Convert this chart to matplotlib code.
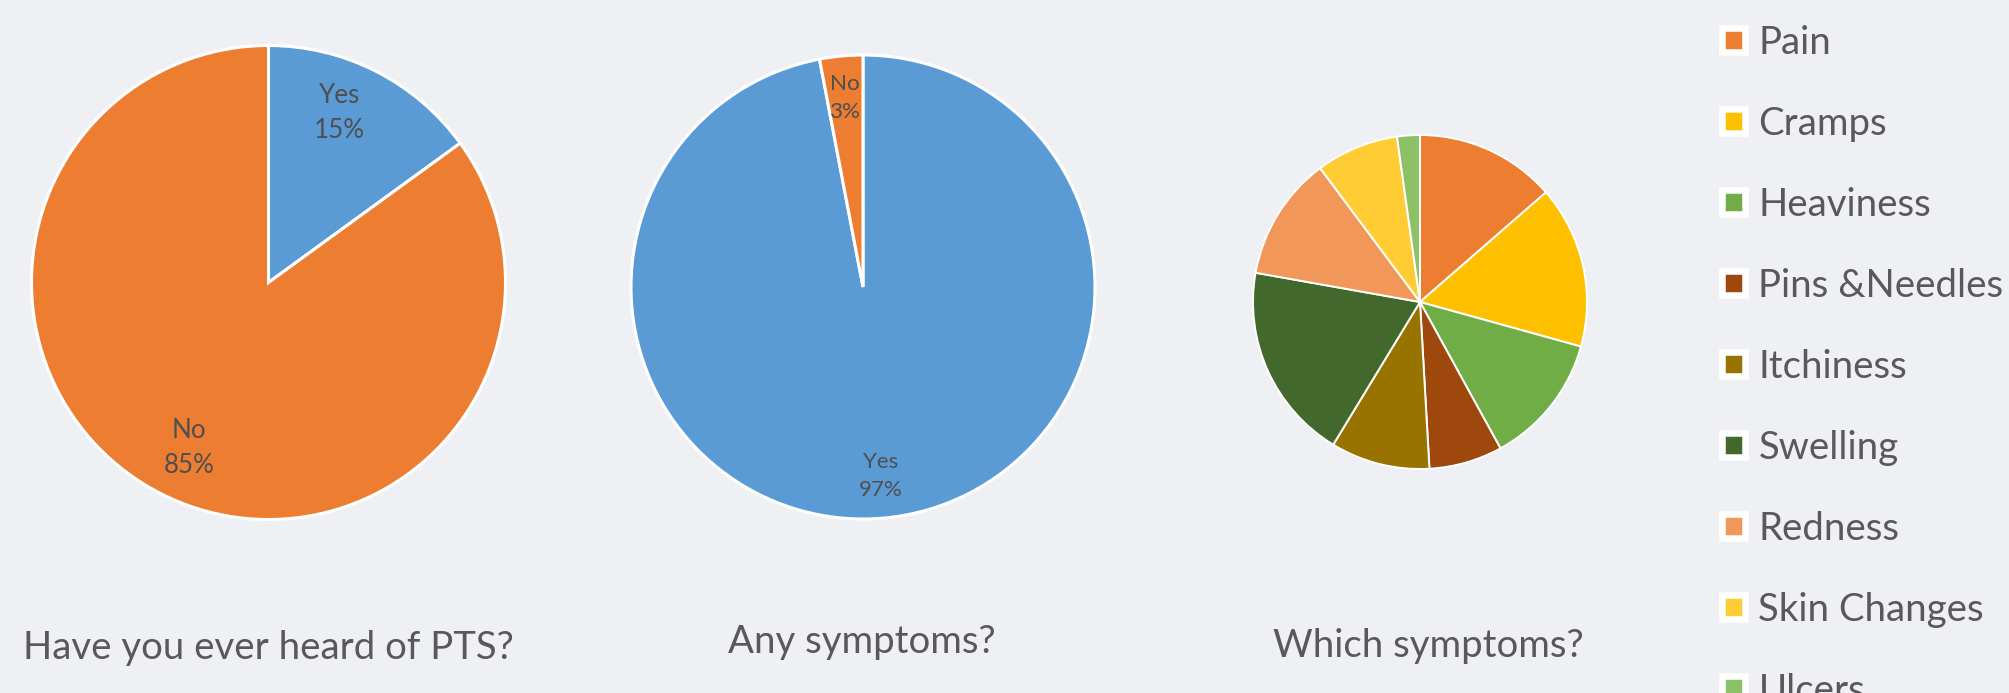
import numpy as np
import matplotlib
matplotlib.use('Agg')
import matplotlib.pyplot as plt
from matplotlib.patches import Patch

# data
heard_labels = ['Yes', 'No']
heard_values = [15, 85]

symptoms_any_labels = ['Yes', 'No']
symptoms_any_values = [97, 3]

which_labels = ['Pain', 'Cramps', 'Heaviness', 'Pins &Needles', 'Itchiness',
                'Swelling', 'Redness', 'Skin Changes', 'Ulcers']
which_values = [13.6, 15.7, 12.7, 7.1, 9.6, 19.1, 12.0, 8.0, 2.2]

titles = ['Have you ever heard of PTS?', 'Any symptoms?', 'Which symptoms?']

yes_no_colors = {'Yes': '#5B9BD5', 'No': '#ED7D31'}
which_colors = ['#ED7D31', '#FFC000', '#70AD47', '#9E480E', '#997300',
                '#43682B', '#F1975A', '#FFCD33', '#8CC168']

BG = '#EEF0F4'
TEXT = '#595959'
W, H = 2009, 693

plt.rcParams['font.family'] = ['Lato', 'DejaVu Sans']

fig = plt.figure(figsize=(W / 100, H / 100), dpi=100)
fig.patch.set_facecolor(BG)
renderer = fig.canvas.get_renderer()


def text_box(s, size):
    t = fig.text(0, 0, s, fontsize=size)
    bb = t.get_window_extent(renderer)
    t.remove()
    return bb


def fit_size(s, target_px, base=20.0):
    # font size (pt) that makes s about target_px wide
    return base * target_px / text_box(s, base).width


title_size = fit_size(titles[0], 490)
legend_size = (fit_size('Pins &Needles', 247) + fit_size('Heaviness', 172)) / 2


def pie_axes(cx, cy, r):
    # cx, cy, r in pixels, cy from the top
    pad = 1.05
    ax = fig.add_axes([(cx - pad * r) / W, (H - cy - pad * r) / H,
                       2 * pad * r / W, 2 * pad * r / H])
    return ax, pad


def draw_pie(ax, pad, values, colors, lw, labels=None, label_dist=0.78, nudge=None,
             label_size=16, line_px=34):
    wedges, _ = ax.pie(values, colors=colors, startangle=90, counterclock=False,
                       wedgeprops=dict(edgecolor='white', linewidth=lw))
    ax.set_xlim(-pad, pad)
    ax.set_ylim(-pad, pad)
    ax.set_facecolor('none')
    if labels is not None:
        total = sum(values)
        nudge = nudge or [0] * len(values)
        ls = line_px / text_box('Ag', label_size).height
        for w, lab, v, dn in zip(wedges, labels, values, nudge):
            ang = np.deg2rad((w.theta1 + w.theta2) / 2 + dn)
            ax.text(label_dist * np.cos(ang), label_dist * np.sin(ang),
                    '%s\n%d%%' % (lab, round(100 * v / total)),
                    ha='center', va='center', fontsize=label_size, color='#4F4F4F',
                    linespacing=ls)
    return wedges


ax1, p1 = pie_axes(268.5, 282.5, 237)
draw_pie(ax1, p1, heard_values, [yes_no_colors[l] for l in heard_labels], 2.2,
         labels=heard_labels, label_dist=0.775, nudge=[4.2, 1.3],
         label_size=fit_size('85%', 51), line_px=37)

ax2, p2 = pie_axes(863, 287, 232)
draw_pie(ax2, p2, symptoms_any_values, [yes_no_colors[l] for l in symptoms_any_labels], 2.2,
         labels=symptoms_any_labels, label_dist=0.82,
         label_size=fit_size('97%', 44), line_px=30)

ax3, p3 = pie_axes(1420, 302, 167)
draw_pie(ax3, p3, which_values, which_colors, 1.4)

# titles under the pies
for t, x, y in zip(titles, [268, 862, 1428], [659, 653, 657]):
    fig.text(x / W, 1 - y / H, t, ha='center', va='baseline',
             fontsize=title_size, color=TEXT)

# legend: rows 81 px apart, first row centred about 39 px from the top
legend_px = legend_size * 100 / 72
row_h = text_box('Pain', legend_size).height
spacing = (81 - row_h) / legend_px
top_px = 39 - row_h / 2 + 4
handles = [Patch(facecolor=c, edgecolor='white', linewidth=4.7) for c in which_colors]
fig.legend(handles, which_labels, loc='upper left',
           bbox_to_anchor=(1722 / W, 1 - top_px / H), frameon=False,
           fontsize=legend_size, labelcolor=TEXT,
           handlelength=22.5 / legend_px, handleheight=22.5 / legend_px,
           handletextpad=14 / legend_px, labelspacing=spacing,
           borderpad=0, borderaxespad=0)

fig.savefig('out.png', dpi=100, facecolor=BG)
